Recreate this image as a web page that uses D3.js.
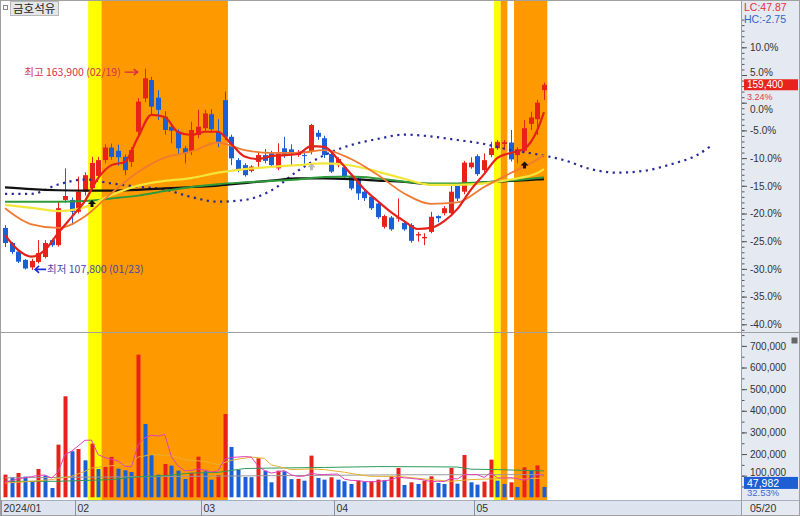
<!DOCTYPE html>
<html><head><meta charset="utf-8">
<script src="https://cdn.jsdelivr.net/npm/d3@7/dist/d3.min.js"></script>
<style>html,body{margin:0;padding:0;background:#fff;}svg{display:block;}</style>
</head><body>
<svg id="chart" width="800" height="516"></svg>
<script>
const stockName = "금호석유";
const year = "2024";
const lastDateLabel = "05/20";
const dates = ["01/17","01/18","01/19","01/22","01/23","01/24","01/25","01/26","01/29","01/30","01/31",
"02/01","02/02","02/05","02/06","02/07","02/08","02/13","02/14","02/15","02/16","02/19","02/20","02/21","02/22","02/23","02/26","02/27","02/28","02/29",
"03/04","03/05","03/06","03/07","03/08","03/11","03/12","03/13","03/14","03/15","03/18","03/19","03/20","03/21","03/22","03/25","03/26","03/27","03/28","03/29",
"04/01","04/02","04/03","04/04","04/05","04/08","04/09","04/11","04/12","04/15","04/16","04/17","04/18","04/19","04/22","04/23","04/24","04/25","04/26","04/29","04/30",
"05/02","05/03","05/07","05/08","05/09","05/10","05/13","05/14","05/16","05/17","05/20"];
const open = [119500,115300,112900,110600,108500,110000,111400,116100,114700,127300,
127300,124000,129600,130600,134000,138400,141900,141000,139300,137900,
146300,155600,160700,155800,150500,147700,146300,141700,141000,145400,
147300,151200,146300,155100,144900,138400,137000,135400,137900,139800,
140300,136100,141700,141400,139800,139800,140700,146000,144500,140100,
137000,136400,133800,133300,129600,128200,126300,119800,122400,122100,
120900,120300,117400,116600,118400,122800,123600,123600,131200,129600,
136400,139500,135600,139800,141700,142900,143300,139800,141000,148500,
149800,157900];
const high = [120300,115600,113300,110800,110900,116100,116100,116500,126800,136100,
128000,133800,135000,139300,139300,142800,143000,142700,140000,142000,
155700,163900,161600,157900,152000,148500,147000,142300,149100,152400,
152400,152600,149800,157500,145500,139000,137500,137000,140600,141500,
141000,143100,144900,142800,141200,141200,148500,146800,145200,140600,
139200,137000,134200,133800,130200,128700,126800,123200,122800,127700,
121300,120800,118400,118000,124000,123000,125600,131500,131800,138200,
139200,140000,140300,143500,144000,144000,146800,142000,149600,151900,
155200,160000];
const low = [114200,112200,109700,107900,107800,109600,111000,114200,114300,126500,
120300,123500,128500,129800,133000,137500,138500,136900,134200,136500,
145500,154500,150900,149600,145500,143100,140000,137500,139800,144500,
146500,146000,142000,144000,137000,135000,133800,135000,136500,137500,
136500,135600,139000,137000,139300,137000,140000,144000,139000,134800,
136400,133000,130000,127300,127000,124500,122000,119300,118700,121200,
118700,115400,115700,114700,118000,121100,123000,123000,127000,128900,
136000,134000,135000,139200,141200,141200,138000,137500,140500,146800,
145400,155200];
const close = [115300,112800,110100,108200,110300,112500,115300,114700,125000,128400,
124000,129600,134200,137600,138400,141900,139300,139200,135600,141200,
154700,161200,153300,152400,146800,146600,141700,140300,146800,147700,
151400,147000,143500,144900,138900,135600,134200,136600,139800,138200,
137000,140300,139800,140300,140700,139600,148200,144900,139800,135200,
138700,133800,130500,129100,127800,125000,122500,122800,119100,122400,
119100,115900,117800,117000,122600,122200,125000,129600,127700,137700,
137700,134500,138400,141700,143500,143400,138600,141400,147300,150300,
154400,159400];
const volume = [104800,92500,112500,95500,74000,131000,100200,43100,243500,466900,
212700,223400,171000,248100,131000,143300,186500,132500,124800,117100,
659500,339000,195700,104800,154100,146400,123300,84800,112500,188000,
120200,81700,103200,385300,232700,126400,94000,93000,180300,123300,
69300,123300,120200,84000,85500,77000,192600,89400,81700,92500,
81700,74000,61600,77000,70900,74000,81700,78600,97100,135600,
57000,69300,61600,77000,97100,66300,61600,135600,63200,195700,
69300,58600,72400,174100,77000,61600,69300,47800,138700,124800,
147500,47982];

// price moving averages at these day indices
const maIdxRed = [0,2,4,6,8,10,12,14,16,18,20,22,24,26,28,30,32,34,36,38,40,42,44,46,48,50,52,54,56,58,60,62,64,66,68,70,72,74,76,78,80,81];
const maRed = [117500,113300,111500,113300,118100,122500,127000,133400,137000,137900,144800,151000,150400,146200,145400,146300,146300,142900,139400,138700,139500,139800,140100,142300,142100,138700,134500,130300,127000,123900,121400,119200,119500,121400,124800,130100,134500,139000,140400,141500,146800,151800];
const maIdx = [0,4,8,12,16,20,24,28,32,36,40,44,48,52,56,60,64,68,72,76,80,81];
const maOrange = [125000,120500,119500,122700,129200,135100,139100,140800,143300,141200,140400,140400,141200,138700,134300,129100,126200,126600,130900,134800,138600,139800];
const maYellow = [125900,125100,124200,125300,128700,131300,132600,133400,134900,135900,136500,137000,137500,136900,135200,133200,131500,131500,131900,133000,134800,135900];
const maGreen = [126800,126800,126800,127000,127700,128500,129800,130900,131700,132200,132600,133000,133700,133800,133300,132400,131900,131900,132200,132700,133400,133600];
const maBlack = [130800,130300,130000,129900,129900,130100,130500,130900,131300,132000,132700,133300,133300,133100,132700,132300,131700,131700,132200,132600,133000,133100];
const shiftIdx = [0,4,8,12,16,20,24,28,32,36,40,44,48,52,56,60,64,68,72,76,80,84,88,92,96,100,104,106];
const shiftLine = [129000,129000,131600,133000,131900,131000,130200,128100,126800,127300,129900,135400,139800,142600,144300,145500,145000,144000,142900,141200,140000,138400,135900,134900,135400,137200,139800,142200];

// volume moving averages
const volMA5 = [69000,77000,85000,91000,95900,101100,102600,88800,118400,197000,
213300,237500,263500,264400,197200,183400,176000,168300,143600,140800,
244000,274600,287200,283100,290600,188000,144900,122700,124200,131000,
125800,117400,121100,175700,184600,185900,188300,186300,145500,123400,
112000,117800,123300,104000,96500,98000,111900,105700,105200,106600,
107600,83900,78300,77400,73000,71500,73000,76400,80500,93400,
90000,87500,84100,80100,72400,74300,72700,87500,84800,104500,
105100,104500,91800,114000,90300,88700,90900,86000,78900,88400,
105600,101400];
const volMA20Idx = [0,4,7,10,12,13,15,19,20,22,25,27,30,32,34,37,39,40,41,43,46,48,51,53,55,59,64,67,70,74,78,81];
const volMA20 = [66000,74000,82000,97000,120000,135000,143000,155000,186000,197000,193000,174000,166000,151000,171000,186000,180000,150000,143000,128000,131000,128000,116000,105000,97000,97000,82000,74000,82000,86000,85000,89000];
const volMA60Idx = [0,8,16,20,24,28,32,36,40,48,56,64,68,70,74,81];
const volMA60 = [74000,74000,82000,95000,100000,112000,115000,133000,135000,138000,142000,141000,140000,130000,128000,122000];
const volMA120Idx = [0,20,40,60,81];
const volMA120 = [90000,95000,100000,104000,105000];

const pctTicks = [10,5,0,-5,-10,-15,-20,-25,-30,-35,-40];
const volTicks = [100000,200000,300000,400000,500000,600000,700000];
const bands = [{from:13,to:14,kind:"y"},{from:15,to:33,kind:"o"},{from:74,to:74,kind:"y"},{from:75,to:75,kind:"o"},{from:77,to:81,kind:"o"}];
const buySignals = [13,78];
const greySignals = [46];

// ---------- layout ----------
const W=800,H=516, axisX=742, split=332.5, volBottom=500;
const step=6.654;
const svg=d3.select("#chart");
const UP="#e8221b", DOWN="#1b5fd6";
const NUMFONT='"Liberation Sans",Arial,sans-serif';
const KRFONT='"Noto Sans CJK KR","Noto Sans",sans-serif';
const fmt=d3.format(",");

const x=d3.scaleLinear().domain([0,110]).range([5,5+step*110]);
const refPrice=close[close.length-2];
const y=d3.scaleLinear().domain([refPrice*0.6,refPrice*1.1]).range([324.3,47.3]);
const yv=d3.scaleLinear().domain([0,700000]).range([497.3,345.9]);
const cx=i=>Math.round(x(i));

svg.append("rect").attr("width",W).attr("height",H).attr("fill","#fff");
const defs=svg.append("defs");
defs.append("clipPath").attr("id","cp").append("rect").attr("x",1).attr("y",1).attr("width",axisX-1).attr("height",split-1);
defs.append("clipPath").attr("id","cv").append("rect").attr("x",1).attr("y",split+1).attr("width",axisX-1).attr("height",volBottom-split-1);

// highlight bands
svg.append("g").selectAll("rect").data(bands).join("rect")
  .attr("x",d=>x(d.from)-step/2).attr("width",d=>(d.to-d.from+1)*step)
  .attr("y",1).attr("height",volBottom-1)
  .attr("fill",d=>d.kind==="y"?"#ffff00":"#ff9900");

// panels
svg.append("rect").attr("x",axisX).attr("y",0).attr("width",W-axisX).attr("height",H).attr("fill","#e4e9f2");
svg.append("rect").attr("x",0).attr("y",volBottom).attr("width",axisX).attr("height",H-volBottom).attr("fill","#dde4ef");

// ---------- price pane ----------
const gp=svg.append("g").attr("clip-path","url(#cp)");
const idx=d3.range(close.length);
gp.selectAll("line.wick").data(idx).join("line").attr("class","wick")
  .attr("x1",i=>cx(i)+0.5).attr("x2",i=>cx(i)+0.5)
  .attr("y1",i=>y(high[i])).attr("y2",i=>y(low[i]))
  .attr("stroke",i=>close[i]>=open[i]?UP:DOWN).attr("stroke-width",1);
gp.selectAll("rect.body").data(idx).join("rect").attr("class","body")
  .attr("x",i=>cx(i)-2).attr("width",5)
  .attr("y",i=>y(Math.max(open[i],close[i])))
  .attr("height",i=>Math.max(1,y(Math.min(open[i],close[i]))-y(Math.max(open[i],close[i]))))
  .attr("fill",i=>close[i]>=open[i]?UP:DOWN);

const zip=(a,b)=>a.map((d,k)=>[d,b[k]]);
const pline=d3.line().x(d=>x(d[0])).y(d=>y(d[1])).curve(d3.curveMonotoneX);
gp.append("path").attr("d",pline(zip(shiftIdx,shiftLine))).attr("fill","none")
  .attr("stroke","#2a2a9c").attr("stroke-width",2.2).attr("stroke-dasharray","2.2 4.45");
gp.append("path").attr("d",pline(zip(maIdx,maBlack))).attr("fill","none").attr("stroke","#111").attr("stroke-width",2.2);
gp.append("path").attr("d",pline(zip(maIdx,maGreen))).attr("fill","none").attr("stroke","#2e9a3a").attr("stroke-width",2);
gp.append("path").attr("d",pline(zip(maIdx,maYellow))).attr("fill","none").attr("stroke","#f2e63a").attr("stroke-width",2.2);
gp.append("path").attr("d",pline(zip(maIdx,maOrange))).attr("fill","none").attr("stroke","#f07a32").attr("stroke-width",1.8);
gp.append("path").attr("d",pline(zip(maIdxRed,maRed))).attr("fill","none").attr("stroke","#e5211c").attr("stroke-width",2.2);

// signal arrows
function upArrow(g,i,color){
  const c=x(i)+0.5, t=y(low[i])+9;
  g.append("path").attr("d",`M${c},${t} L${c+4},${t+4} L${c+1.5},${t+4} L${c+1.5},${t+7} L${c-1.5},${t+7} L${c-1.5},${t+4} L${c-4},${t+4} Z`).attr("fill",color);
}
buySignals.forEach(i=>upArrow(gp,i,"#111"));
greySignals.forEach(i=>upArrow(gp,i,"#b8b8b8"));

// max / min annotations
const iMax=d3.maxIndex(high), iMin=d3.minIndex(low);
{
  const tip=x(iMax)-7, yy=y(high[iMax])+3.5;
  gp.append("path").attr("d",`M${tip-13},${yy} L${tip},${yy} M${tip-4},${yy-3} L${tip},${yy} L${tip-4},${yy+3}`).attr("stroke","#e0284a").attr("stroke-width",1.3).attr("fill","none");
  gp.append("text").attr("x",tip-17).attr("y",yy+4).attr("text-anchor","end").attr("font-family",KRFONT).attr("font-size",10.5).attr("fill","#d8304e")
    .text(`최고 ${fmt(high[iMax])} (${dates[iMax]})`);
}
{
  const tip=x(iMin)+3.5, yy=y(low[iMin])-0.5;
  gp.append("path").attr("d",`M${tip},${yy} L${tip+11},${yy} M${tip+4},${yy-3.5} L${tip},${yy} L${tip+4},${yy+3.5}`).attr("stroke","#1c2ee0").attr("stroke-width",1.6).attr("fill","none");
  gp.append("text").attr("x",tip+12).attr("y",yy+4).attr("font-family",KRFONT).attr("font-size",10.5).attr("fill","#4a48a8")
    .text(`최저 ${fmt(low[iMin])} (${dates[iMin]})`);
}

// ---------- volume pane ----------
const gv=svg.append("g").attr("clip-path","url(#cv)");
gv.selectAll("rect").data(idx).join("rect")
  .attr("x",i=>cx(i)-1.5).attr("width",4)
  .attr("y",i=>yv(volume[i])).attr("height",i=>yv(0)-yv(volume[i]))
  .attr("fill",i=>(i===0||volume[i]>volume[i-1])?UP:DOWN);
const vline=d3.line().x(d=>x(d[0])).y(d=>yv(d[1]));
gv.append("path").attr("d",vline(zip(volMA120Idx,volMA120))).attr("fill","none").attr("stroke","#9a9a9a").attr("stroke-width",1);
gv.append("path").attr("d",vline(zip(volMA60Idx,volMA60))).attr("fill","none").attr("stroke","#2e9a5a").attr("stroke-width",1);
gv.append("path").attr("d",vline(zip(volMA20Idx,volMA20))).attr("fill","none").attr("stroke","#e6b030").attr("stroke-width",1);
gv.append("path").attr("d",vline(zip(idx,volMA5))).attr("fill","none").attr("stroke","#e040b8").attr("stroke-width",1);

// ---------- frames ----------
svg.append("line").attr("x1",0).attr("x2",W).attr("y1",split).attr("y2",split).attr("stroke","#a0a0a0");
svg.append("line").attr("x1",0).attr("x2",W).attr("y1",volBottom+0.5).attr("y2",volBottom+0.5).attr("stroke","#a8b0c0");
svg.append("line").attr("x1",axisX-0.5).attr("x2",axisX-0.5).attr("y1",0).attr("y2",H).attr("stroke","#9aa0aa");
svg.append("rect").attr("x",0.5).attr("y",0.5).attr("width",W-1).attr("height",H-1).attr("fill","none").attr("stroke","#a0a0a0");

// ---------- right axes ----------
function styleAxis(g){
  g.select(".domain").remove();
  g.selectAll("line").attr("stroke","#555");
  g.selectAll("text").attr("font-family",NUMFONT).attr("font-size",10).attr("fill","#333");
}
const minorP=d3.range(-41,16,1).map(p=>refPrice*(1+p/100)).filter(v=>y(v)>2&&y(v)<330);
svg.append("g").attr("transform",`translate(${axisX},0)`).call(d3.axisRight(y).tickValues(minorP).tickSize(2.5).tickFormat("")).call(styleAxis);
const pAxis=svg.append("g").attr("transform",`translate(${axisX},0)`)
  .call(d3.axisRight(y).tickValues(pctTicks.map(p=>refPrice*(1+p/100))).tickSize(5).tickPadding(3)
  .tickFormat(v=>((v/refPrice-1)*100).toFixed(1)+"%")).call(styleAxis);
// labels next to the last-price tag are nudged so they stay readable
pAxis.selectAll("text").filter(v=>Math.abs(v-refPrice)<1).attr("dy","0.95em");
pAxis.selectAll("text").filter(v=>Math.abs(v-refPrice*1.05)<1).attr("dy","0.08em");
const minorV=d3.range(50000,760000,50000);
svg.append("g").attr("transform",`translate(${axisX},0)`).call(d3.axisRight(yv).tickValues(minorV).tickSize(2.5).tickFormat("")).call(styleAxis);
const vAxis=svg.append("g").attr("transform",`translate(${axisX},0)`)
  .call(d3.axisRight(yv).tickValues(volTicks).tickSize(5).tickPadding(3).tickFormat(fmt)).call(styleAxis);
vAxis.selectAll("text").filter(v=>v===100000).attr("dy","-0.05em");

// LC/HC
const last=close[close.length-1];
svg.append("text").attr("x",744).attr("y",11).attr("font-family",NUMFONT).attr("font-size",10.5).attr("fill","#e03434")
  .text("LC:"+((last/low[iMin]-1)*100).toFixed(2));
svg.append("text").attr("x",744).attr("y",23).attr("font-family",NUMFONT).attr("font-size",10.5).attr("fill","#3462c4")
  .text("HC:"+((last/high[iMax]-1)*100).toFixed(2));

// last price box
{
  const yy=y(last);
  svg.append("rect").attr("x",744).attr("y",yy-5.5).attr("width",54).attr("height",11).attr("fill","#e8231b");
  svg.append("text").attr("x",747).attr("y",yy+3.5).attr("font-family",NUMFONT).attr("font-size",10).attr("fill","#fff").text(fmt(last));
  svg.append("text").attr("x",747).attr("y",yy+15).attr("font-family",NUMFONT).attr("font-size",9).attr("fill","#e03a4a")
    .text(((last/refPrice-1)*100).toFixed(2)+"%");
}
// last volume box
{
  const lv=volume[volume.length-1], pv=volume[volume.length-2];
  const yy=yv(lv)-4;
  svg.append("rect").attr("x",744).attr("y",yy-6).attr("width",54).attr("height",12).attr("fill","#1d5fd3");
  svg.append("text").attr("x",747).attr("y",yy+4).attr("font-family",NUMFONT).attr("font-size",10.5).attr("fill","#fff").text(fmt(lv));
  svg.append("text").attr("x",747).attr("y",yy+13.5).attr("font-family",NUMFONT).attr("font-size",9.5).attr("fill","#3a6ad8")
    .text((lv/pv*100).toFixed(2)+"%");
}
// tiny icon in volume axis
svg.append("rect").attr("x",791.5).attr("y",337.5).attr("width",6).attr("height",6).attr("fill","#666");

// ---------- date axis ----------
const monthStarts=idx.filter(i=>i===0||dates[i].slice(0,2)!==dates[i-1].slice(0,2));
const gd=svg.append("g");
monthStarts.forEach((i,k)=>{
  const tx=k===0?1.5:Math.round(x(i)-step/2)+0.5;
  gd.append("line").attr("x1",tx).attr("x2",tx).attr("y1",volBottom).attr("y2",H).attr("stroke","#8a93a3");
  gd.append("text").attr("x",tx+2).attr("y",512).attr("font-family",NUMFONT).attr("font-size",10.5).attr("fill","#333")
    .text(k===0?`${year}/${dates[i].slice(0,2)}`:dates[i].slice(0,2));
});
svg.append("text").attr("x",750).attr("y",512).attr("font-family",NUMFONT).attr("font-size",10.5).attr("fill","#333").text(lastDateLabel);

// ---------- title ----------
svg.append("rect").attr("x",3.5).attr("y",5.5).attr("width",4).attr("height",4).attr("fill","#fff").attr("stroke","#888");
svg.append("rect").attr("x",10.5).attr("y",1.5).attr("width",48).attr("height",14).attr("fill","#e6e6e6").attr("stroke","#b8b8b8");
svg.append("text").attr("x",13).attr("y",13).attr("font-family",KRFONT).attr("font-size",11.5).attr("fill","#222").text(stockName);
</script>
</body></html>
